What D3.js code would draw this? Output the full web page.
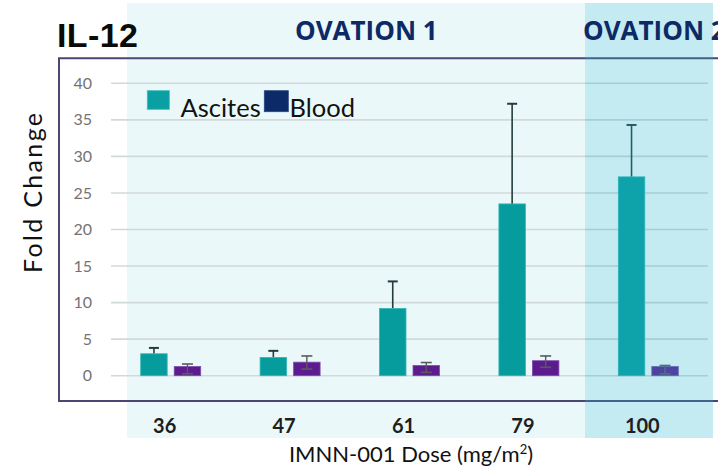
<!DOCTYPE html>
<html>
<head>
<meta charset="utf-8">
<script src="https://cdn.jsdelivr.net/npm/d3@7/dist/d3.min.js"></script>
<style>
  html, body { margin: 0; padding: 0; background: #ffffff; }
  svg { display: block; }
</style>
</head>
<body>
<svg id="chart" width="718" height="467"></svg>
<script>
// ---- data ----
const doses = ["36", "47", "61", "79", "100"];
const seriesNames = ["Ascites", "Blood"];
const ascitesMean = [3.0, 2.5, 9.2, 23.5, 27.2];
const ascitesUpper = [3.8, 3.4, 12.9, 37.2, 34.3];
const bloodMean = [1.25, 1.85, 1.4, 2.05, 1.25];
const bloodLow = [0.25, 0.9, 0.45, 1.15, 0.25];
const bloodHigh = [1.6, 2.7, 1.8, 2.7, 1.4];
const yTicks = [0, 5, 10, 15, 20, 25, 30, 35, 40];

const svg = d3.select("#chart");

const colors = { Ascites: "#069c9e", Blood: "#5c1b8f" };
const legendColors = { Ascites: "#0a9fa3", Blood: "#0d2a68" };

const x0 = d3.scaleBand().domain(doses).range([111, 708]).padding(0);
const x1 = d3.scaleBand().domain(seriesNames)
  .range([x0.bandwidth() / 2 - 30, x0.bandwidth() / 2 + 30]).paddingInner(0.21);
const y = d3.scaleLinear().domain([0, 40]).range([375.7, 83.3]);

// backgrounds
svg.append("rect").attr("x", 127).attr("y", 3).attr("width", 458).attr("height", 435)
  .attr("fill", "#eaf8f9");

// gridlines
svg.append("g").selectAll("line").data(yTicks).join("line")
  .attr("x1", 111).attr("x2", 708)
  .attr("y1", d => y(d)).attr("y2", d => y(d))
  .attr("stroke", "#d2d9d9").attr("stroke-width", 1.6);

// y axis labels
const yAxis = d3.axisLeft(y).tickValues(yTicks).tickSize(0).tickPadding(0);
const gy = svg.append("g").attr("transform", "translate(92,0)").call(yAxis);
gy.select(".domain").remove();
gy.selectAll("text").attr("font-family", "Lato, 'DejaVu Sans', sans-serif")
  .attr("font-size", 16).attr("fill", "#737373");

// bars
const rows = doses.map((d, i) => ({
  dose: d, ascites: ascitesMean[i], aUp: ascitesUpper[i],
  blood: bloodMean[i], bLo: bloodLow[i], bHi: bloodHigh[i]
}));
const g = svg.append("g");
const grp = g.selectAll("g.grp").data(rows).join("g")
  .attr("transform", d => `translate(${x0(d.dose)},0)`);

// ascites error (upper only)
const ac = x1("Ascites") + x1.bandwidth() / 2;
grp.append("line").attr("x1", ac).attr("x2", ac)
  .attr("y1", d => y(d.ascites)).attr("y2", d => y(d.aUp))
  .attr("stroke", "#263c3c").attr("stroke-width", 1.6);
grp.append("line").attr("x1", ac - 5).attr("x2", ac + 5)
  .attr("y1", d => y(d.aUp)).attr("y2", d => y(d.aUp))
  .attr("stroke", "#263c3c").attr("stroke-width", 2);

grp.append("rect")
  .attr("x", x1("Ascites")).attr("width", x1.bandwidth())
  .attr("y", d => y(d.ascites)).attr("height", d => y(0) - y(d.ascites))
  .attr("fill", colors.Ascites).attr("stroke", "#33b5b5").attr("stroke-width", 0.8);

grp.append("rect")
  .attr("x", x1("Blood")).attr("width", x1.bandwidth())
  .attr("y", d => y(d.blood)).attr("height", d => y(0) - y(d.blood))
  .attr("fill", colors.Blood).attr("stroke", "#7d4cad").attr("stroke-width", 0.8);

// blood error (both)
const bc = x1("Blood") + x1.bandwidth() / 2;
grp.append("line").attr("x1", bc).attr("x2", bc)
  .attr("y1", d => y(d.bLo)).attr("y2", d => y(d.bHi))
  .attr("stroke", "#5a5a5a").attr("stroke-width", 1.4);
grp.append("line").attr("x1", bc - 5.5).attr("x2", bc + 5.5)
  .attr("y1", d => y(d.bHi)).attr("y2", d => y(d.bHi))
  .attr("stroke", "#5a5a5a").attr("stroke-width", 1.6);
grp.append("line").attr("x1", bc - 5.5).attr("x2", bc + 5.5)
  .attr("y1", d => y(d.bLo)).attr("y2", d => y(d.bLo))
  .attr("stroke", "#5a5a5a").attr("stroke-width", 1.6);

// frame
svg.append("path").attr("d", "M718,58.3 H59 V401 H718")
  .attr("fill", "none").attr("stroke", "#4b4672").attr("stroke-width", 2);

// dark overlay (OVATION 2 panel)
svg.append("rect").attr("x", 585).attr("y", 3).attr("width", 128).attr("height", 435)
  .attr("fill", "rgb(36,181,203)").attr("fill-opacity", 0.27);

// x tick labels
const xAxis = d3.axisBottom(x0).tickSize(0).tickPadding(0);
const gx = svg.append("g").attr("transform", "translate(-6,418)").call(xAxis);
gx.select(".domain").remove();
gx.selectAll("text").attr("font-family", "Lato, 'DejaVu Sans', sans-serif")
  .attr("font-weight", 700).attr("font-size", 20).attr("fill", "#1e1e1e")
  .attr("dy", "0.73em");

// x axis title
const xt = svg.append("text").attr("x", 411).attr("y", 462).attr("text-anchor", "middle")
  .attr("font-family", "Lato, 'DejaVu Sans', sans-serif").attr("font-size", 22).attr("fill", "#111");
xt.append("tspan").text("IMNN-001 Dose (mg/m");
xt.append("tspan").attr("font-size", 13).attr("dy", -8).text("2");
xt.append("tspan").attr("dy", 8).text(")");

// y axis title
svg.append("text").attr("transform", "translate(42,193) rotate(-90)")
  .attr("text-anchor", "middle")
  .attr("font-family", "Lato, 'DejaVu Sans', sans-serif").attr("font-size", 25).attr("fill", "#111")
  .attr("textLength", 160).attr("lengthAdjust", "spacing")
  .text("Fold Change");

// title
svg.append("text").attr("x", 57).attr("y", 47.3)
  .attr("font-family", "'Liberation Sans', Arial, sans-serif").attr("font-weight", 700)
  .attr("font-size", 34).attr("fill", "#0a0a0a").attr("textLength", 81).text("IL-12");

// section labels
svg.append("text").attr("x", 295).attr("y", 40)
  .attr("font-family", "'Open Sans', sans-serif").attr("font-weight", 700)
  .attr("font-size", 26).attr("fill", "#0d2a66").text("OVATION 1");
svg.append("text").attr("x", 583).attr("y", 40)
  .attr("font-family", "'Open Sans', sans-serif").attr("font-weight", 700)
  .attr("font-size", 26).attr("fill", "#0d2a66").text("OVATION 2");

// legend
const legend = [
  { name: "Ascites", sx: 147.3, sw: 22, sy: 90.7, sh: 18.6, tx: 180.5 },
  { name: "Blood", sx: 264.3, sw: 24, sy: 90.7, sh: 21, tx: 289.5 }
];
const lg = svg.append("g").selectAll("g").data(legend).join("g");
lg.append("rect").attr("x", d => d.sx).attr("y", d => d.sy).attr("width", d => d.sw).attr("height", d => d.sh)
  .attr("fill", d => legendColors[d.name])
  .attr("stroke", d => d.name === "Ascites" ? "#3bbcbc" : "#2a4580").attr("stroke-width", 0.8);
lg.append("text").attr("x", d => d.tx).attr("y", 116.7)
  .attr("font-family", "Lato, 'DejaVu Sans', sans-serif").attr("font-size", 25.5).attr("fill", "#111")
  .text(d => d.name);
</script>
</body>
</html>
